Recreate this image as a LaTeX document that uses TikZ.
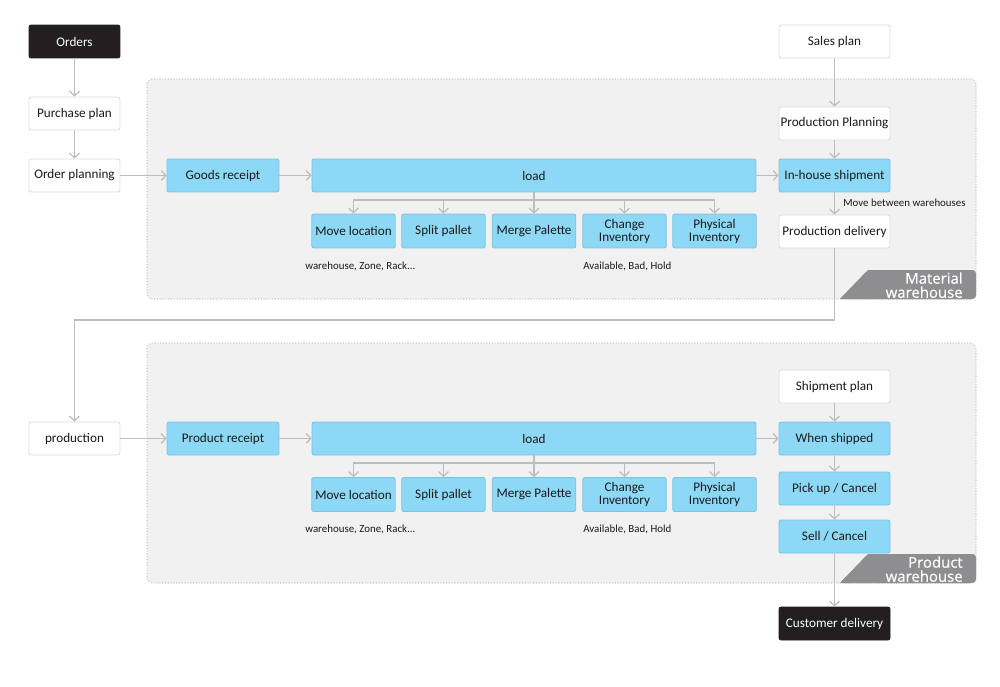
\documentclass[tikz,border=0pt]{standalone}
\usepackage{fontspec}
\setmainfont{Carlito}
\newfontfamily\tagfont[FakeBold=0.5]{Open Sans}
\usetikzlibrary{arrows.meta}
\definecolor{blu}{HTML}{8DD8F5}
\definecolor{bluline}{HTML}{7CC3E2}
\definecolor{wline}{HTML}{DCDCDC}
\definecolor{blk}{HTML}{231F20}
\definecolor{arrc}{HTML}{BDBDBD}
\definecolor{panelc}{HTML}{F1F1F1}
\definecolor{paneld}{HTML}{C9C9C9}
\definecolor{tagc}{HTML}{8E8E90}
\definecolor{txt}{HTML}{1A1A1A}
\begin{document}
\begin{tikzpicture}[x=0.02cm,y=-0.02cm,
  box/.style={rounded corners=1.2pt, inner sep=0pt, align=center, text=txt,
    font=\fontsize{7.5}{7.4}\selectfont, line width=0.5pt},
  wbox/.style={box, fill=white, draw=wline},
  bbox/.style={box, fill=blu, draw=bluline},
  kbox/.style={box, fill=blk, draw=blk, text=white},
  lw/.style={minimum width=1.82cm, minimum height=0.66cm},
  rw/.style={minimum width=2.22cm, minimum height=0.66cm},
  sw/.style={minimum width=1.67cm, minimum height=0.68cm},
  ln/.style={draw=arrc, line width=0.7pt},
  arr/.style={ln, -{Straight Barb[length=2.6pt, width=5.6pt]}},
  panel/.style={fill=panelc, draw=paneld, densely dotted, line width=0.6pt, rounded corners=3pt},
  note/.style={font=\fontsize{6.2}{6.2}\selectfont, text=txt, inner sep=0pt},
  tagtxt/.style={font=\tagfont\fontsize{8.5}{8}\selectfont, text=white, inner sep=0pt, align=right}
]
\useasboundingbox (0,0) rectangle (1000,686);

% panels
\path[panel] (147,79) rectangle (976,299);
\path[panel] (147,343) rectangle (976,583);
\fill[tagc, rounded corners=2pt] (840,299) -- (868,270) -- (976,270) -- (976,299) -- cycle;
\fill[tagc] (840,299) -- (868,270) -- (970,270) -- (970,299) -- cycle;
\node[tagtxt, anchor=north east] (tag1) at (963,272) {Material\\warehouse};
\fill[tagc, rounded corners=2pt] (840,583) -- (868,554) -- (976,554) -- (976,583) -- cycle;
\fill[tagc] (840,583) -- (868,554) -- (970,554) -- (970,583) -- cycle;
\node[tagtxt, anchor=north east] (tag2) at (963,556) {Product\\warehouse};

% ---------- upper part ----------
\node[kbox, lw] (orders) at (74.5,41.5) {Orders};
\node[wbox, lw] (pplan) at (74.5,113.5) {Purchase plan};
\node[wbox, lw] (oplan) at (74.5,175.5) {Order planning};
\node[bbox, minimum width=2.24cm, minimum height=0.66cm] (gr) at (223,175.5) {Goods receipt};
\node[bbox, minimum width=8.88cm, minimum height=0.66cm] (load1) at (534,175.5) {load};
\node[bbox, sw] (m1) at (353.5,231) {Move location};
\node[bbox, sw] (s1) at (443.5,231) {Split pallet};
\node[bbox, sw] (g1) at (534,231) {Merge Palette};
\node[bbox, sw] (c1) at (624.5,231) {Change\\Inventory};
\node[bbox, sw] (p1) at (714.5,231) {Physical\\Inventory};
\node[note, anchor=west] (n1) at (305,266) {warehouse, Zone, Rack...};
\node[note, anchor=west] (n2) at (583,266) {Available, Bad, Hold};

\node[wbox, rw] (sales) at (834.5,41.5) {Sales plan};
\node[wbox, rw] (prodplan) at (834.5,123.5) {Production Planning};
\node[bbox, rw] (inhouse) at (834.5,175.5) {In-house shipment};
\node[wbox, rw] (pdel) at (834.5,231.5) {Production delivery};
\node[note, anchor=west] (mbw) at (843,203) {Move between warehouses};

\draw[arr] (orders) -- (pplan);
\draw[arr] (pplan) -- (oplan);
\draw[arr] (oplan) -- (gr);
\draw[arr] (gr) -- (load1);
\draw[arr] (load1) -- (inhouse);
\draw[arr] (sales) -- (prodplan);
\draw[arr] (prodplan) -- (inhouse);
\draw[arr] (inhouse) -- (pdel);
\coordinate (b1) at (534,200);
\draw[ln] (load1.south) -- (b1);
\draw[arr] (b1) -| (m1.north);
\draw[arr] (b1) -| (s1.north);
\draw[arr] (b1) -- (g1.north);
\draw[arr] (b1) -| (c1.north);
\draw[arr] (b1) -| (p1.north);

% ---------- lower part ----------
\node[wbox, lw] (prod) at (74.5,438.5) {production};
\node[bbox, minimum width=2.24cm, minimum height=0.66cm] (prc) at (223,438.5) {Product receipt};
\node[bbox, minimum width=8.88cm, minimum height=0.66cm] (load2) at (534,438.5) {load};
\node[bbox, sw] (m2) at (353.5,494.5) {Move location};
\node[bbox, sw] (s2) at (443.5,494.5) {Split pallet};
\node[bbox, sw] (g2) at (534,494.5) {Merge Palette};
\node[bbox, sw] (c2) at (624.5,494.5) {Change\\Inventory};
\node[bbox, sw] (p2) at (714.5,494.5) {Physical\\Inventory};
\node[note, anchor=west] (n3) at (305,529) {warehouse, Zone, Rack...};
\node[note, anchor=west] (n4) at (583,529) {Available, Bad, Hold};

\node[wbox, rw] (shplan) at (834.5,386.5) {Shipment plan};
\node[bbox, rw] (whens) at (834.5,438.5) {When shipped};
\node[bbox, rw] (pick) at (834.5,488.5) {Pick up / Cancel};
\node[bbox, rw] (sell) at (834.5,536.5) {Sell / Cancel};
\node[kbox, rw] (cust) at (834.5,623.5) {Customer delivery};

\coordinate (turn) at (834.5,320);
\draw[arr] (pdel.south) -- (turn) -| (prod.north);
\draw[arr] (prod) -- (prc);
\draw[arr] (prc) -- (load2);
\draw[arr] (load2) -- (whens);
\draw[arr] (shplan) -- (whens);
\draw[arr] (whens) -- (pick);
\draw[arr] (pick) -- (sell);
\draw[arr] (sell) -- (cust);
\coordinate (b2) at (534,463);
\draw[ln] (load2.south) -- (b2);
\draw[arr] (b2) -| (m2.north);
\draw[arr] (b2) -| (s2.north);
\draw[arr] (b2) -- (g2.north);
\draw[arr] (b2) -| (c2.north);
\draw[arr] (b2) -| (p2.north);
\end{tikzpicture}
\end{document}
